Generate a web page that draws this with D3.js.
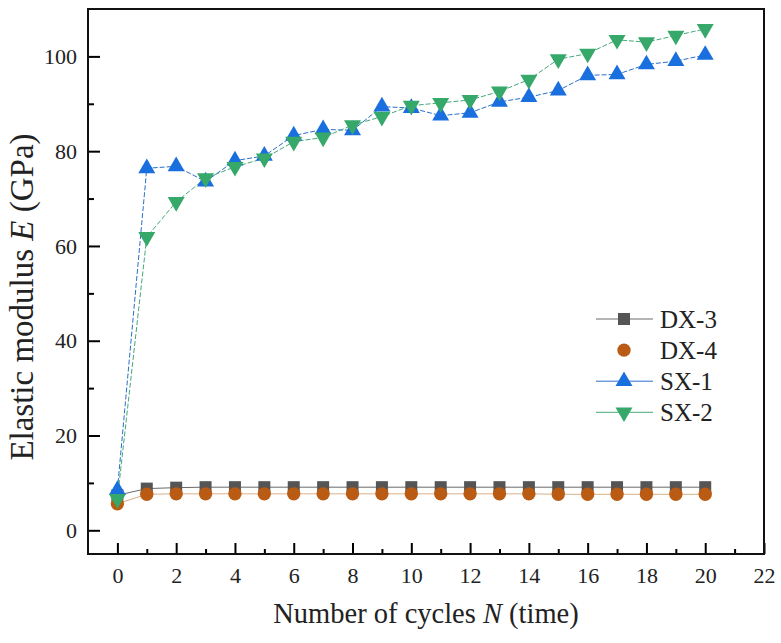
<!DOCTYPE html>
<html>
<head>
<meta charset="utf-8">
<script src="https://cdn.jsdelivr.net/npm/d3@7"></script>
<style>
  body { margin: 0; background: #fff; }
</style>
</head>
<body>
<div id="chart"></div>
<script>
// DATA
const cycles = [0,1,2,3,4,5,6,7,8,9,10,11,12,13,14,15,16,17,18,19,20];
const dx3 = [7.4,8.8,9.0,9.1,9.1,9.1,9.1,9.1,9.1,9.1,9.1,9.1,9.1,9.1,9.1,9.1,9.1,9.1,9.1,9.1,9.1];
const dx4 = [5.6,7.6,7.7,7.7,7.7,7.7,7.7,7.7,7.7,7.7,7.7,7.7,7.7,7.7,7.7,7.6,7.6,7.6,7.6,7.6,7.6];
const sx1 = [8.5,76.4,76.8,73.6,78.0,79.0,83.3,84.6,84.4,89.4,89.1,87.5,88.1,90.4,91.4,92.8,96.0,96.2,98.3,99.0,100.3];
const sx2 = [6.6,61.9,69.3,74.3,76.7,78.5,82.0,82.9,85.5,87.3,89.6,90.2,90.8,92.6,95.1,99.4,100.6,103.5,103.0,104.4,105.8];
const seriesNames = ['DX-3', 'DX-4', 'SX-1', 'SX-2'];
const xMajorTicks = [0,2,4,6,8,10,12,14,16,18,20,22];
const xMinorTicks = [1,3,5,7,9,11,13,15,17,19,21];
const yMajorTicks = [0,20,40,60,80,100];
const yMinorTicks = [10,30,50,70,90];

// PLOT DEFAULTS
const CHART_WIDTH = 781;
const CHART_HEIGHT = 643;
const MARGIN = { left: 88, top: 9, right: 17, bottom: 89 };
const WIDTH = CHART_WIDTH - MARGIN.left - MARGIN.right;
const HEIGHT = CHART_HEIGHT - MARGIN.top - MARGIN.bottom;
const FONT = 'Liberation Serif';

const styles = {
  'DX-3': { values: dx3, color: '#555555', line: '#6a6a6a', dash: null, symbol: d3.symbolSquare, size: 144, rot: 0 },
  'DX-4': { values: dx4, color: '#b95b12', line: '#dbb089', dash: null, symbol: d3.symbolCircle, size: 140, rot: 0 },
  'SX-1': { values: sx1, color: '#1a6fdf', line: '#2a6fc8', dash: '5,2', symbol: d3.symbolTriangle, size: 125, rot: 0 },
  'SX-2': { values: sx2, color: '#35a86a', line: '#45a878', dash: '5,2', symbol: d3.symbolTriangle, size: 125, rot: 180 }
};

const svg = d3.select('#chart')
  .append('svg')
  .attr('width', CHART_WIDTH)
  .attr('height', CHART_HEIGHT)
  .attr('font-family', FONT);

const g = svg.append('g')
  .attr('transform', `translate(${MARGIN.left}, ${MARGIN.top})`);

const xScale = d3.scaleLinear().domain([-1, 22]).range([0, WIDTH]);
const yScale = d3.scaleLinear().domain([-5, 110]).range([HEIGHT, 0]);

// axes (ticks point inward)
g.append('g')
  .attr('transform', `translate(0, ${HEIGHT})`)
  .call(d3.axisBottom(xScale).tickValues(xMajorTicks).tickSize(-11).tickSizeOuter(0).tickPadding(13))
  .attr('font-family', FONT)
  .call(ax => ax.select('.domain').remove())
  .call(ax => ax.selectAll('line').attr('stroke-width', 2))
  .call(ax => ax.selectAll('text').attr('font-size', 22).attr('fill', '#222'));

g.append('g')
  .attr('transform', `translate(0, ${HEIGHT})`)
  .call(d3.axisBottom(xScale).tickValues(xMinorTicks).tickSize(-5).tickSizeOuter(0).tickFormat(''))
  .call(ax => ax.select('.domain').remove())
  .call(ax => ax.selectAll('line').attr('stroke-width', 2));

g.append('g')
  .call(d3.axisLeft(yScale).tickValues(yMajorTicks).tickSize(-12).tickSizeOuter(0).tickPadding(11))
  .attr('font-family', FONT)
  .call(ax => ax.select('.domain').remove())
  .call(ax => ax.selectAll('line').attr('stroke-width', 2))
  .call(ax => ax.selectAll('text').attr('font-size', 22).attr('fill', '#222'));

g.append('g')
  .call(d3.axisLeft(yScale).tickValues(yMinorTicks).tickSize(-6).tickSizeOuter(0).tickFormat(''))
  .call(ax => ax.select('.domain').remove())
  .call(ax => ax.selectAll('line').attr('stroke-width', 2));

// frame
g.append('rect')
  .attr('width', WIDTH)
  .attr('height', HEIGHT)
  .attr('fill', 'none')
  .attr('stroke', '#111')
  .attr('stroke-width', 2);

// lines
const line = d3.line()
  .x((d, i) => xScale(cycles[i]))
  .y(d => yScale(d));

seriesNames.forEach(name => {
  const s = styles[name];
  g.append('path')
    .datum(s.values)
    .attr('d', line)
    .attr('fill', 'none')
    .attr('stroke', s.line)
    .attr('stroke-width', 1)
    .attr('stroke-dasharray', s.dash);
});

// markers
seriesNames.forEach(name => {
  const s = styles[name];
  g.append('g')
    .selectAll('path')
    .data(s.values)
    .join('path')
    .attr('d', d3.symbol().type(s.symbol).size(s.size))
    .attr('transform', (d, i) => `translate(${xScale(cycles[i])}, ${yScale(d)}) rotate(${s.rot})`)
    .attr('fill', s.color);
});

// legend
const legend = g.append('g')
  .attr('transform', `translate(${596 - MARGIN.left}, ${319 - MARGIN.top})`);

seriesNames.forEach((name, i) => {
  const s = styles[name];
  const row = legend.append('g').attr('transform', `translate(0, ${i * 31.1})`);
  if (name !== 'DX-4') {
    row.append('line')
      .attr('x1', 0).attr('x2', 57)
      .attr('stroke', s.line)
      .attr('stroke-width', 1);
  }
  row.append('path')
    .attr('d', d3.symbol().type(s.symbol).size(s.size))
    .attr('transform', `translate(28, 0) rotate(${s.rot})`)
    .attr('fill', s.color);
  row.append('text')
    .attr('x', 64)
    .attr('dy', '0.34em')
    .attr('font-size', 25)
    .attr('fill', '#222')
    .text(name);
});

// axis titles
const xTitle = svg.append('text')
  .attr('x', MARGIN.left + WIDTH / 2)
  .attr('y', 623)
  .attr('text-anchor', 'middle')
  .attr('font-size', 28.5)
  .attr('fill', '#222');
xTitle.append('tspan').text('Number of cycles ');
xTitle.append('tspan').attr('font-style', 'italic').text('N');
xTitle.append('tspan').text(' (time)');

const yTitle = svg.append('text')
  .attr('transform', 'translate(33, 297) rotate(-90)')
  .attr('text-anchor', 'middle')
  .attr('font-size', 33)
  .attr('fill', '#222');
yTitle.append('tspan').text('Elastic modulus ');
yTitle.append('tspan').attr('font-style', 'italic').text('E');
yTitle.append('tspan').text(' (GPa)');
</script>
</body>
</html>
